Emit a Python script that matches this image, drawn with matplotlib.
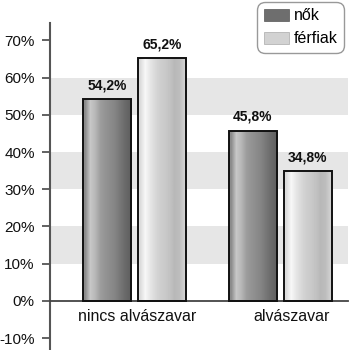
import numpy as np
import matplotlib
matplotlib.use("Agg")
import matplotlib.pyplot as plt
from matplotlib.patches import Patch

plt.rcParams['font.family'] = ['Liberation Sans', 'DejaVu Sans']

categories = ["nincs alvászavar", "alvászavar"]
series = ["nők", "férfiak"]
nok = [54.2, 45.8]
ferfiak = [65.2, 34.8]
yticks = [-10, 0, 10, 20, 30, 40, 50, 60, 70]
bands = [(10, 20), (30, 40), (50, 60)]

# gray profiles across the bar width (left -> right), used as a fake texture
nok_profile = [0.55, 0.78, 0.72, 0.62, 0.58, 0.55, 0.52, 0.47, 0.42, 0.38]
ferfi_profile = [0.86, 0.97, 0.90, 0.85, 0.81, 0.79, 0.76, 0.72, 0.74, 0.82]

fig = plt.figure(figsize=(3.5, 3.5), dpi=100)
ax = fig.add_axes([50 / 350, 0, 298 / 350, 327 / 350])

x = np.arange(len(categories))
width = 0.33
offset = 0.189

for lo, hi in bands:
    ax.axhspan(lo, hi, color="#e6e6e6", zorder=0, lw=0)


def textured_bars(xpos, vals, profile):
    bars = ax.bar(xpos, vals, width, facecolor="none", edgecolor="#111111",
                  linewidth=1.4, zorder=3)
    img = np.array(profile)[None, :]
    for b in bars:
        x0 = b.get_x()
        im = ax.imshow(img, cmap="gray", vmin=0, vmax=1, aspect="auto",
                       interpolation="bilinear",
                       extent=[x0, x0 + b.get_width(), 0, b.get_height()],
                       zorder=2)
        im.set_clip_path(b)
    for b, v in zip(bars, vals):
        ax.annotate(f"{v:.1f}%".replace(".", ","),
                    (b.get_x() + b.get_width() / 2, b.get_height()),
                    xytext=(0, 5), textcoords="offset points",
                    ha="center", va="bottom", fontsize=10, fontweight="bold",
                    color="#111111", zorder=4)
    return bars


textured_bars(x - offset, nok, nok_profile)
textured_bars(x + offset, ferfiak, ferfi_profile)

ax.set_xlim(-0.581, 1.467)
ax.set_ylim(-13.2, 74.7)

ax.set_yticks(yticks)
ax.set_yticklabels([f"{t}%" for t in yticks])
ax.tick_params(axis="y", direction="out", length=6, width=1.3,
               color="#555555", labelsize=11, pad=5, labelcolor="#111111")

ax.set_xticks([0.02, 1.08])
ax.set_xticklabels(categories)
ax.tick_params(axis="x", length=0, labelsize=11.5, pad=6, labelcolor="#111111")

ax.spines["top"].set_visible(False)
ax.spines["right"].set_visible(False)
ax.spines["left"].set_color("#555555")
ax.spines["left"].set_linewidth(1.5)
ax.spines["bottom"].set_position(("data", 0))
ax.spines["bottom"].set_color("#444444")
ax.spines["bottom"].set_linewidth(1.3)

handles = [Patch(facecolor="#6e6e6e", edgecolor="#555555", lw=0.5),
           Patch(facecolor="#d2d2d2", edgecolor="#aaaaaa", lw=0.5)]
leg = fig.legend(handles, series, loc="upper right",
                 bbox_to_anchor=(0.984, 0.994), borderaxespad=0,
                 fontsize=11.5, handlelength=1.55, handleheight=0.75,
                 handletextpad=0.35, labelspacing=0.5, borderpad=0.4,
                 fancybox=True, framealpha=1, edgecolor="#999999")
leg.get_frame().set_linewidth(1.0)
leg.get_frame().set_boxstyle("round", pad=0, rounding_size=0.5)

fig.savefig("out.png", dpi=100)
